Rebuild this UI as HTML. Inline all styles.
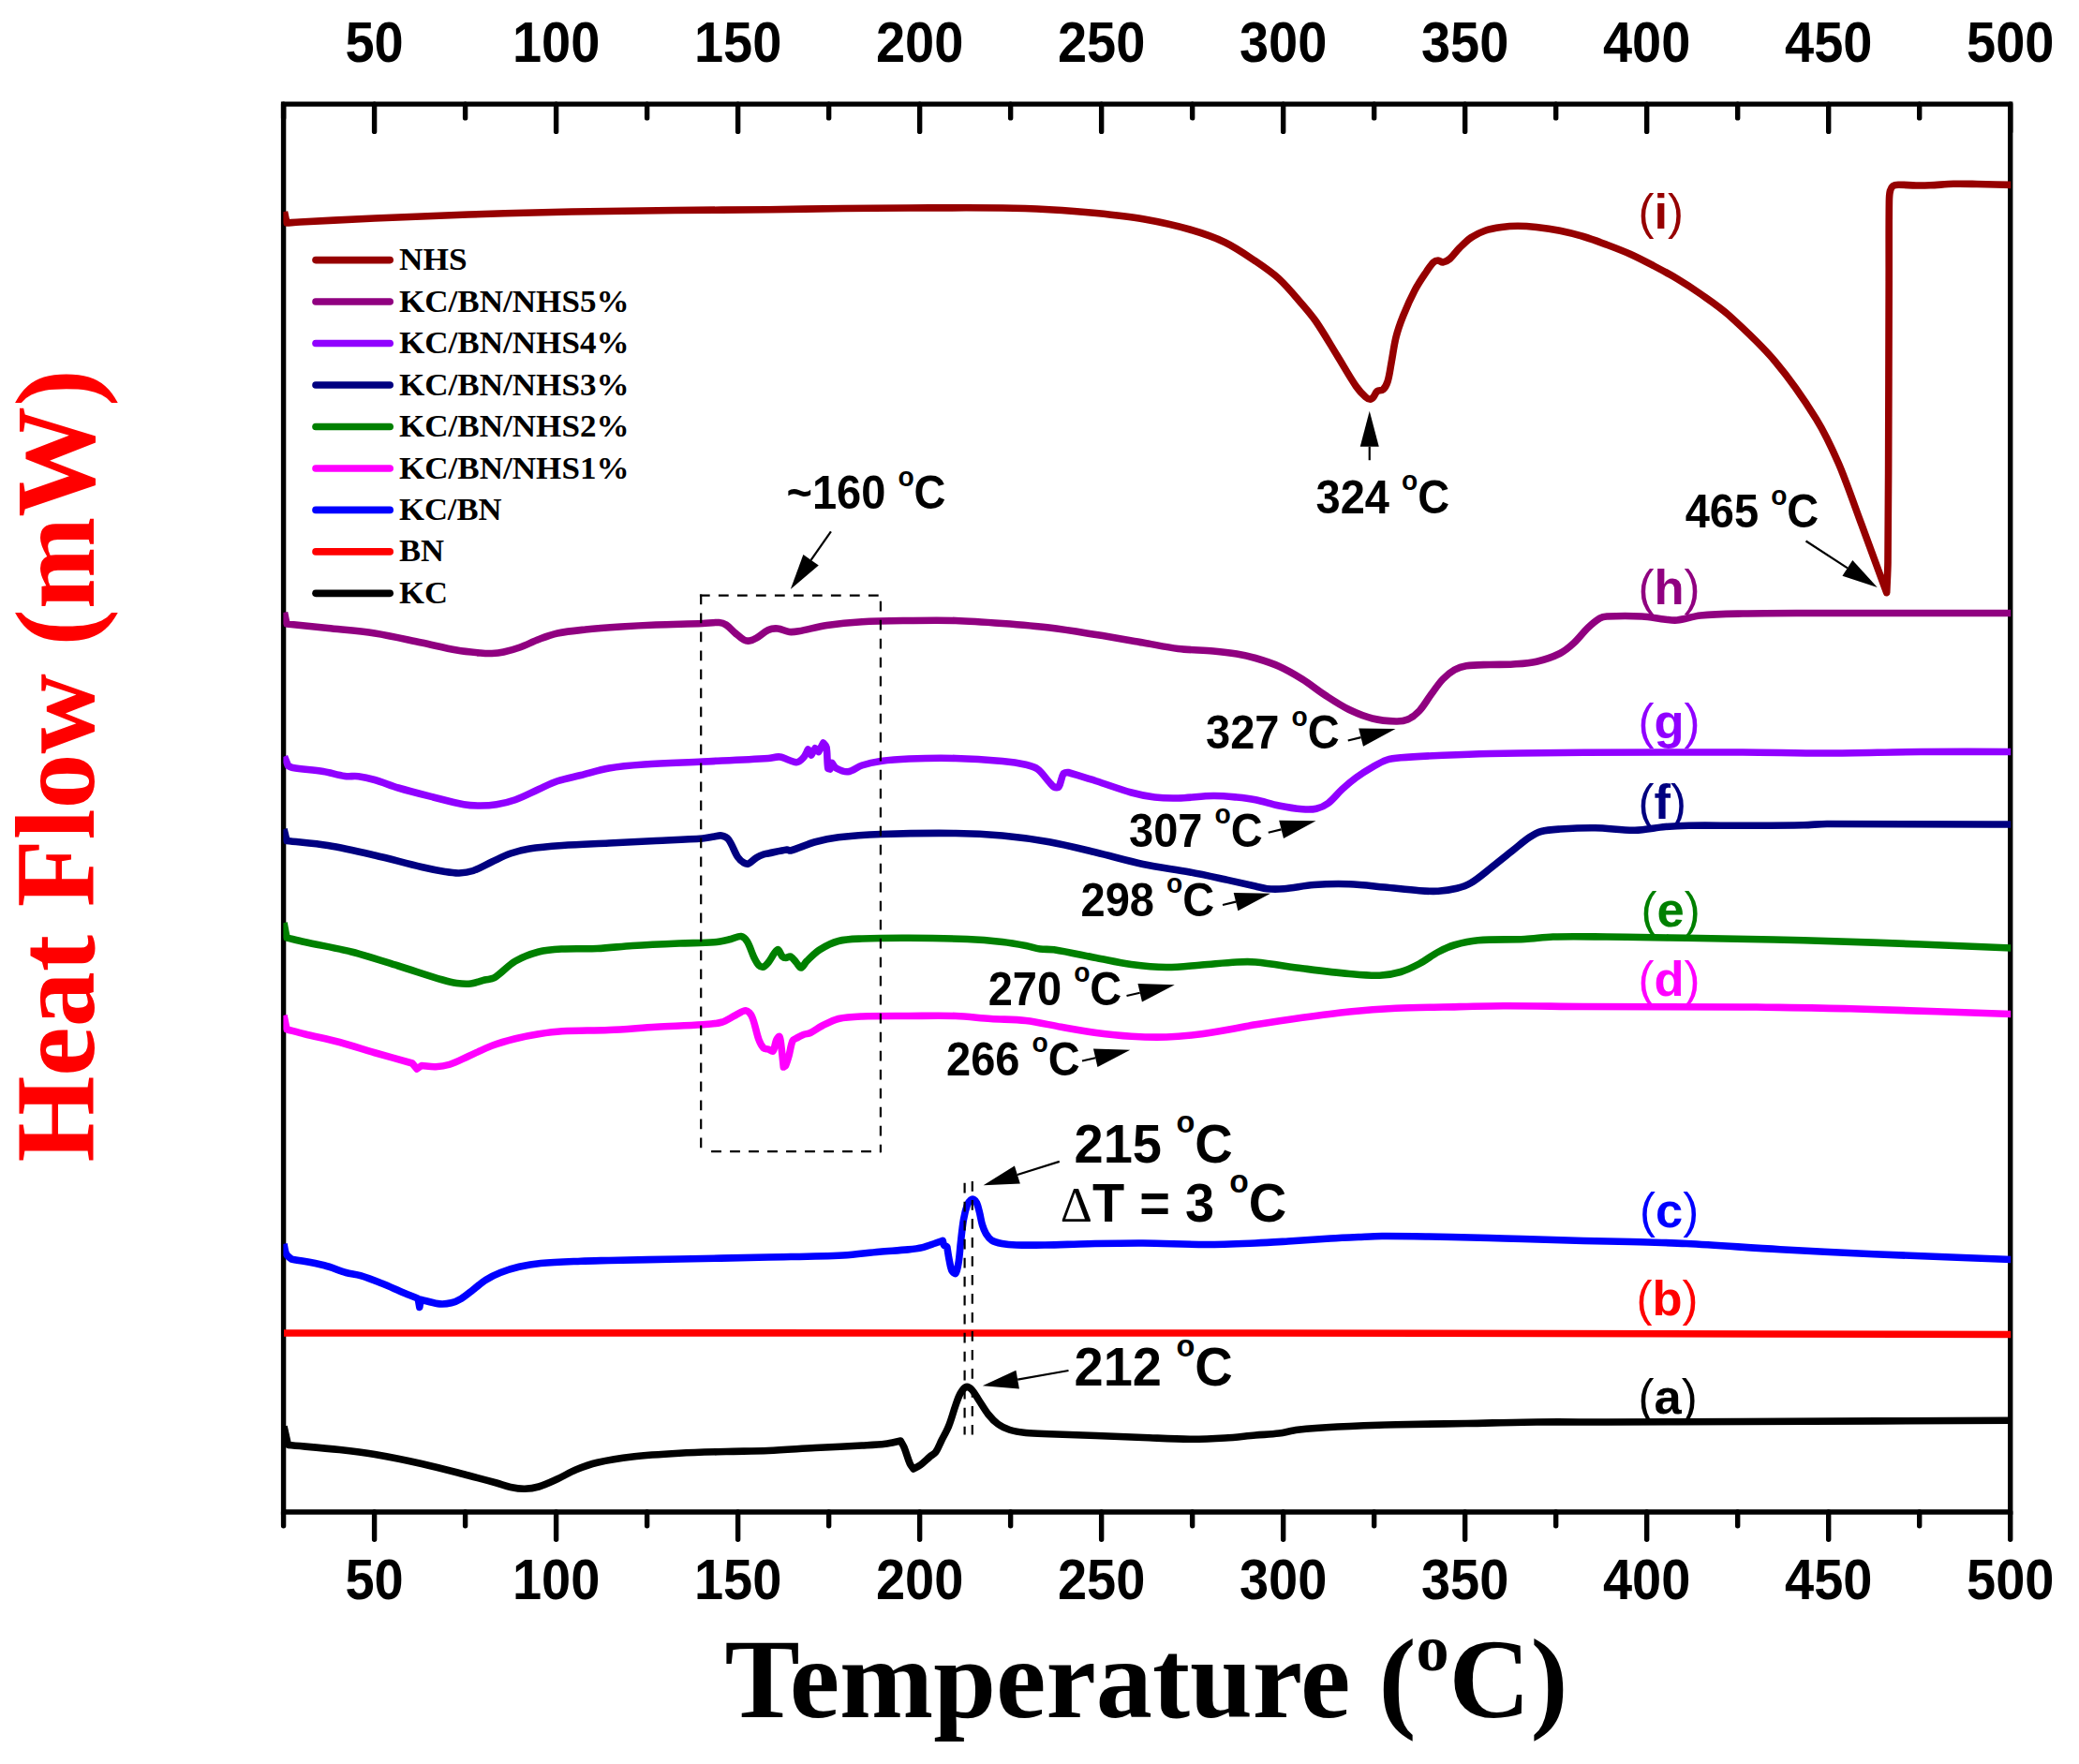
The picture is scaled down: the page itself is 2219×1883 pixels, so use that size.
<!DOCTYPE html>
<html lang="en"><head><meta charset="utf-8"><title>DSC thermograms</title>
<style>html,body{margin:0;padding:0;background:#fff}svg{display:block}.s{font-family:'Liberation Sans', sans-serif;font-weight:bold}.r{font-family:'Liberation Serif', serif;font-weight:bold}.n{font-weight:normal}.cv{fill:none;stroke-width:7.6;stroke-linejoin:round;stroke-linecap:butt}.ax{stroke:#000;stroke-width:5.4;stroke-linecap:round;fill:none}.ar{stroke:#000;stroke-width:2.2;fill:none}.dh{stroke:#000;stroke-width:2.2;fill:none;stroke-dasharray:10.8 9.2}</style></head><body>
<svg width="2219" height="1883" viewBox="0 0 2219 1883">
<rect width="2219" height="1883" fill="#fff"/>
<text class="s" font-size="56" fill="#000" text-anchor="middle" transform="translate(399.61 65.7) scale(1 1.075)">50</text>
<text class="s" font-size="56" fill="#000" text-anchor="middle" transform="translate(593.62 65.7) scale(1 1.075)">100</text>
<text class="s" font-size="56" fill="#000" text-anchor="middle" transform="translate(787.63 65.7) scale(1 1.075)">150</text>
<text class="s" font-size="56" fill="#000" text-anchor="middle" transform="translate(981.64 65.7) scale(1 1.075)">200</text>
<text class="s" font-size="56" fill="#000" text-anchor="middle" transform="translate(1175.65 65.7) scale(1 1.075)">250</text>
<text class="s" font-size="56" fill="#000" text-anchor="middle" transform="translate(1369.66 65.7) scale(1 1.075)">300</text>
<text class="s" font-size="56" fill="#000" text-anchor="middle" transform="translate(1563.67 65.7) scale(1 1.075)">350</text>
<text class="s" font-size="56" fill="#000" text-anchor="middle" transform="translate(1757.68 65.7) scale(1 1.075)">400</text>
<text class="s" font-size="56" fill="#000" text-anchor="middle" transform="translate(1951.69 65.7) scale(1 1.075)">450</text>
<text class="s" font-size="56" fill="#000" text-anchor="middle" transform="translate(2145.7 65.7) scale(1 1.075)">500</text>
<text class="s" font-size="56" fill="#000" text-anchor="middle" transform="translate(399.61 1707.3) scale(1 1.075)">50</text>
<text class="s" font-size="56" fill="#000" text-anchor="middle" transform="translate(593.62 1707.3) scale(1 1.075)">100</text>
<text class="s" font-size="56" fill="#000" text-anchor="middle" transform="translate(787.63 1707.3) scale(1 1.075)">150</text>
<text class="s" font-size="56" fill="#000" text-anchor="middle" transform="translate(981.64 1707.3) scale(1 1.075)">200</text>
<text class="s" font-size="56" fill="#000" text-anchor="middle" transform="translate(1175.65 1707.3) scale(1 1.075)">250</text>
<text class="s" font-size="56" fill="#000" text-anchor="middle" transform="translate(1369.66 1707.3) scale(1 1.075)">300</text>
<text class="s" font-size="56" fill="#000" text-anchor="middle" transform="translate(1563.67 1707.3) scale(1 1.075)">350</text>
<text class="s" font-size="56" fill="#000" text-anchor="middle" transform="translate(1757.68 1707.3) scale(1 1.075)">400</text>
<text class="s" font-size="56" fill="#000" text-anchor="middle" transform="translate(1951.69 1707.3) scale(1 1.075)">450</text>
<text class="s" font-size="56" fill="#000" text-anchor="middle" transform="translate(2145.7 1707.3) scale(1 1.075)">500</text>
<text class="r" font-size="120" x="773.5" y="1833" textLength="900" lengthAdjust="spacingAndGlyphs" id="xt">Temperature (<tspan font-size="70" dy="-50">o</tspan><tspan dy="50">C)</tspan></text>
<text class="r" font-size="120" fill="#FF0000" transform="translate(100 1240.5) rotate(-90)" textLength="846" lengthAdjust="spacingAndGlyphs" id="yt">Heat Flow (mW)</text>
<path class="ax" stroke-linejoin="miter" d="M302.6 111.1H2145.7V1614H302.6Z"/>
<path class="ax" d="M302.6 111.1V125.9M302.6 1614V1628.8M399.61 111.1V140.4M399.61 1614V1643.3M496.61 111.1V125.9M496.61 1614V1628.8M593.62 111.1V140.4M593.62 1614V1643.3M690.62 111.1V125.9M690.62 1614V1628.8M787.63 111.1V140.4M787.63 1614V1643.3M884.63 111.1V125.9M884.63 1614V1628.8M981.64 111.1V140.4M981.64 1614V1643.3M1078.64 111.1V125.9M1078.64 1614V1628.8M1175.65 111.1V140.4M1175.65 1614V1643.3M1272.65 111.1V125.9M1272.65 1614V1628.8M1369.66 111.1V140.4M1369.66 1614V1643.3M1466.66 111.1V125.9M1466.66 1614V1628.8M1563.67 111.1V140.4M1563.67 1614V1643.3M1660.67 111.1V125.9M1660.67 1614V1628.8M1757.68 111.1V140.4M1757.68 1614V1643.3M1854.68 111.1V125.9M1854.68 1614V1628.8M1951.69 111.1V140.4M1951.69 1614V1643.3M2048.69 111.1V125.9M2048.69 1614V1628.8M2145.7 111.1V140.4M2145.7 1614V1643.3"/>
<clipPath id="cp"><rect x="302.4" y="111.1" width="1843.8" height="1502.9"/></clipPath>
<g clip-path="url(#cp)">
<path class="cv" stroke="#000000" d="M303 1522.5L307.5 1542.5C325.83 1544.17 344.2 1545.52 362.5 1547.5C375.03 1548.86 387.58 1550.37 400 1552.5C416.74 1555.37 433.42 1558.77 450 1562.5C466.76 1566.27 483.36 1570.74 500 1575C510.03 1577.57 520.03 1580.23 530 1583C535.03 1584.4 539.91 1586.44 545 1587.5C549.91 1588.52 555.01 1589.33 560 1589.25C565.01 1589.17 570.19 1588.44 575 1587C581.86 1584.94 588.44 1581.74 595 1578.75C601.78 1575.66 608.13 1571.58 615 1568.75C622.29 1565.75 629.82 1563.01 637.5 1561.25C649.82 1558.43 662.42 1556.44 675 1555C691.59 1553.1 708.32 1552.17 725 1551.25C741.65 1550.33 758.33 1549.98 775 1549.5C790 1549.07 805.01 1549.13 820 1548.5C836.68 1547.8 853.33 1546.42 870 1545.5C886.66 1544.58 903.34 1543.94 920 1543C928.34 1542.53 936.72 1542.25 945 1541.25C950.47 1540.59 955.83 1539.08 961.25 1538C962.5 1540.33 964 1542.55 965 1545C967.34 1550.72 968.8 1556.86 971.25 1562.5C972.13 1564.52 973.75 1566.17 975 1568C977.5 1566.58 980.2 1565.46 982.5 1563.75C986.04 1561.12 989.12 1557.86 992.5 1555C994.54 1553.28 997.23 1552.12 998.75 1550C1001.4 1546.29 1002.92 1541.67 1005 1537.5C1007.5 1532.5 1010.43 1527.68 1012.5 1522.5C1015.43 1515.18 1017.34 1507.44 1020 1500C1021.51 1495.78 1022.79 1491.33 1025 1487.5C1026.54 1484.83 1028.87 1481.21 1031.25 1480.5C1033.04 1479.96 1035.93 1482.09 1037.5 1483.75C1040.51 1486.93 1042.5 1491.25 1045 1495C1048.33 1500 1051.26 1505.33 1055 1510C1057.93 1513.66 1061.23 1517.28 1065 1520C1068.73 1522.69 1073.1 1524.86 1077.5 1526.25C1083.1 1528.02 1089.11 1528.88 1095 1529.5C1103.28 1530.38 1111.66 1530.42 1120 1530.75C1136.66 1531.42 1153.33 1531.88 1170 1532.5C1186.67 1533.13 1203.33 1533.87 1220 1534.5C1236.67 1535.12 1253.33 1536.15 1270 1536.25C1282.5 1536.32 1295.02 1535.76 1307.5 1535C1318.35 1534.34 1329.16 1532.94 1340 1532C1348.33 1531.28 1356.72 1531.06 1365 1530C1371.72 1529.14 1378.27 1527 1385 1526.25C1399.1 1524.67 1413.31 1523.74 1427.5 1523C1448.31 1521.91 1469.16 1521.28 1490 1520.75C1514.99 1520.11 1540 1519.96 1565 1519.5C1590 1519.04 1615 1518.25 1640 1518C1665 1517.75 1690 1518.06 1715 1518C1763.33 1517.89 1811.67 1517.7 1860 1517.5C1955.67 1517.11 2051.33 1516.67 2147 1516.25"/>
<path class="cv" stroke="#FF0000" d="M303 1423C648.67 1423 994.33 1422.72 1340 1423C1609 1423.22 1878 1424 2147 1424.5"/>
<path class="cv" stroke="#0000FF" d="M303 1327.7C303.8 1331.3 303.86 1335.31 305.4 1338.5C306.46 1340.71 309 1342.1 310.8 1343.9C322.6 1346.2 334.56 1347.89 346.2 1350.8C354.06 1352.76 361.5 1356.31 369.3 1358.5C374.33 1359.91 379.7 1360.1 384.7 1361.6C392.5 1363.94 400.12 1366.98 407.7 1370C415.49 1373.11 423.07 1376.75 430.8 1380C435.9 1382.15 441.07 1384.13 446.2 1386.2L447.8 1395.4L449 1387.3C450.63 1387.7 452.26 1388.13 453.9 1388.5C459.03 1389.66 464.12 1391.47 469.3 1391.9C473.35 1392.24 477.65 1391.77 481.6 1390.8C485.35 1389.87 489.06 1388.19 492.4 1386.2C496.76 1383.59 500.63 1380.11 504.7 1377C509.36 1373.44 513.66 1369.32 518.6 1366.2C523.43 1363.15 528.68 1360.59 534 1358.5C540.48 1355.96 547.22 1353.88 554 1352.3C561.55 1350.54 569.27 1349.21 577 1348.5C591.27 1347.18 605.66 1346.79 620 1346.2C629.99 1345.79 640 1345.71 650 1345.5C675 1344.98 700 1344.51 725 1344C756.67 1343.35 788.33 1342.72 820 1342C846.67 1341.39 873.37 1341.3 900 1340C912.87 1339.37 925.65 1337.33 938.5 1336.2C948.75 1335.3 959.06 1334.92 969.3 1333.9C974.46 1333.39 979.67 1332.79 984.7 1331.6C989.4 1330.49 993.91 1328.56 998.5 1327C1001.08 1326.13 1003.63 1325.2 1006.2 1324.3C1006.7 1325.97 1006.78 1327.99 1007.7 1329.3C1008.31 1330.16 1009.77 1330.3 1010.8 1330.8C1011.57 1335.43 1012.15 1340.1 1013.1 1344.7C1013.95 1348.84 1014.5 1353.4 1016.2 1357C1016.8 1358.26 1019.38 1360.14 1020 1359.3C1021.68 1357.04 1022.46 1351.64 1023.1 1347.7C1024.26 1340.61 1024.56 1333.36 1025.4 1326.2C1026.36 1317.99 1027.08 1309.73 1028.5 1301.6C1029.41 1296.39 1030.59 1291.1 1032.4 1286.2C1033.15 1284.16 1034.64 1282.13 1036.2 1280.8C1036.94 1280.17 1038.48 1279.89 1039.3 1280.3C1040.54 1280.92 1041.76 1282.48 1042.4 1283.9C1043.8 1287.02 1044.54 1290.53 1045.4 1293.9C1046.57 1298.46 1047.14 1303.2 1048.5 1307.7C1049.47 1310.9 1050.66 1314.18 1052.4 1317C1053.99 1319.58 1055.98 1322.35 1058.5 1323.9C1061.61 1325.81 1065.61 1326.68 1069.3 1327.4C1074.34 1328.38 1079.55 1328.82 1084.7 1329C1094.95 1329.35 1105.24 1329.17 1115.5 1329C1130.9 1328.74 1146.3 1327.99 1161.7 1327.7C1181.13 1327.33 1200.57 1326.88 1220 1327C1242.5 1327.14 1265 1328.5 1287.5 1328.5C1305 1328.5 1322.51 1327.7 1340 1327C1351.68 1326.53 1363.34 1325.73 1375 1325C1390 1324.06 1404.99 1322.9 1420 1322C1429.99 1321.4 1440 1320.95 1450 1320.5C1458.33 1320.12 1466.66 1319.56 1475 1319.5C1491.66 1319.39 1508.34 1319.71 1525 1320C1546.67 1320.38 1568.33 1320.96 1590 1321.5C1601.67 1321.79 1613.33 1322.15 1625 1322.5C1646.67 1323.15 1668.33 1323.93 1690 1324.5C1706.66 1324.93 1723.34 1325.05 1740 1325.5C1760 1326.05 1780.02 1326.47 1800 1327.5C1833.35 1329.22 1866.65 1331.87 1900 1333.75C1933.32 1335.62 1966.66 1337.3 2000 1338.75C2048.99 1340.88 2098 1342.58 2147 1344.5"/>
<path class="cv" stroke="#FF00FF" d="M303 1083.75L306 1098.75C312.33 1100.42 318.64 1102.2 325 1103.75C337.47 1106.78 350.1 1109.19 362.5 1112.5C375.1 1115.86 387.47 1120.11 400 1123.75C413.3 1127.61 426.67 1131.25 440 1135L445 1141L450 1137.5C455 1137.92 460.03 1138.96 465 1138.75C470.03 1138.54 475.21 1137.79 480 1136.25C486.88 1134.04 493.35 1130.46 500 1127.5C508.35 1123.79 516.46 1119.45 525 1116.25C533.13 1113.2 541.57 1110.86 550 1108.75C558.24 1106.69 566.61 1105.09 575 1103.75C583.28 1102.42 591.63 1101.22 600 1100.75C616.63 1099.81 633.35 1100.25 650 1099.5C666.68 1098.75 683.33 1097.21 700 1096.25C716.66 1095.29 733.36 1094.94 750 1093.75C756.7 1093.27 763.63 1093.07 770 1091.25C775.3 1089.74 779.96 1086.17 785 1083.75C788.63 1082.01 792.66 1078.51 796 1078.75C798.49 1078.93 801.3 1082.33 802.5 1085C805.97 1092.74 806.99 1101.88 810 1110C811.16 1113.13 812.79 1116.54 815 1118.75C816.13 1119.88 818.37 1119.47 820 1120C821.7 1120.55 824.13 1123 825 1122C827.04 1119.67 827.06 1113.74 828.75 1110C829.39 1108.58 831.49 1105.73 832 1106.5C833.24 1108.39 833.49 1114.14 834 1118C834.92 1124.98 835.53 1132 836.3 1139C837.03 1138.5 838.13 1138.28 838.5 1137.5C840.03 1134.28 841 1130.55 842 1127C843.5 1121.71 843.94 1115.82 846 1111C846.6 1109.59 848.6 1109.09 850 1108.3C852.44 1106.92 854.9 1105.51 857.5 1104.5C859.9 1103.57 862.68 1103.6 865 1102.5C869.35 1100.43 873.16 1097.17 877.5 1095C883.16 1092.17 888.89 1088.94 895 1087.5C903.06 1085.6 911.64 1085.33 920 1085C936.64 1084.33 953.33 1084.58 970 1084.5C986.67 1084.42 1003.36 1083.93 1020 1084.5C1032.52 1084.93 1044.99 1086.67 1057.5 1087.5C1069.99 1088.33 1082.59 1088.05 1095 1089.5C1107.59 1090.97 1119.99 1094.08 1132.5 1096.25C1144.99 1098.41 1157.45 1100.83 1170 1102.5C1182.45 1104.16 1194.97 1105.5 1207.5 1106.25C1219.97 1107 1232.52 1107.42 1245 1107C1257.52 1106.58 1270.06 1105.33 1282.5 1103.75C1295.06 1102.16 1307.52 1099.67 1320 1097.5C1326.68 1096.34 1333.3 1094.83 1340 1093.75C1356.64 1091.08 1373.31 1088.55 1390 1086.25C1406.64 1083.96 1423.29 1081.67 1440 1080C1456.63 1078.34 1473.31 1077.08 1490 1076.25C1506.65 1075.42 1523.33 1075.36 1540 1075C1561.67 1074.53 1583.33 1073.82 1605 1073.75C1633.33 1073.66 1661.67 1074.36 1690 1074.5C1746.67 1074.78 1803.33 1074.85 1860 1075C1865 1075.01 1870 1074.92 1875 1075C1908.33 1075.51 1941.68 1075.83 1975 1076.75C2032.34 1078.33 2089.67 1080.58 2147 1082.5"/>
<path class="cv" stroke="#008000" d="M303 985L306 1001C312.33 1002.5 318.64 1004.12 325 1005.5C341.64 1009.12 358.51 1011.8 375 1016C391.85 1020.3 408.37 1025.88 425 1031C440.87 1035.88 456.59 1041.29 472.5 1046C477.42 1047.46 482.44 1048.82 487.5 1049.5C492.44 1050.16 497.58 1050.57 502.5 1050C507.58 1049.41 512.48 1047.25 517.5 1046C520.81 1045.17 524.65 1045.51 527.5 1043.75C535.48 1038.84 541.84 1030.77 550 1026C557.67 1021.52 566.39 1018.24 575 1016C583.05 1013.91 591.63 1013.47 600 1013C612.46 1012.3 625.02 1013.08 637.5 1012.5C650.02 1011.92 662.49 1010.29 675 1009.5C691.65 1008.45 708.33 1007.71 725 1007C737.5 1006.46 750.07 1006.77 762.5 1005.75C768.4 1005.27 774.21 1003.77 780 1002.5C783.71 1001.69 787.66 999.02 791 999.5C793.49 999.86 796.06 1002.63 797.5 1005C800.72 1010.3 802.21 1016.82 805 1022.5C806.38 1025.32 807.85 1028.46 810 1030.5C811.19 1031.63 813.54 1032.44 815 1032C816.88 1031.44 818.58 1029.22 820 1027.5C823.58 1023.14 826.71 1015.18 830 1013.75C831.71 1013.01 833 1019 835 1021C835.92 1021.92 837.48 1022.5 838.75 1022.5C840.39 1022.5 842.38 1020.39 843.75 1021C846.13 1022.06 847.94 1025.31 850 1027.5C851.69 1029.31 853.36 1033.22 855 1033C857.03 1032.72 858.79 1028.13 861 1026C865.46 1021.71 869.81 1017.03 875 1013.75C881.15 1009.86 887.99 1006.33 895 1004.5C902.99 1002.41 911.64 1002.36 920 1002C936.64 1001.28 953.33 1001.18 970 1001.25C990.83 1001.34 1011.69 1001.62 1032.5 1002.5C1045.02 1003.03 1057.55 1004.11 1070 1005.5C1078.38 1006.44 1086.71 1007.95 1095 1009.5C1100.04 1010.45 1104.94 1012.28 1110 1013C1114.94 1013.7 1120.06 1012.97 1125 1013.75C1140.06 1016.14 1154.99 1019.63 1170 1022.5C1182.49 1024.88 1194.91 1027.82 1207.5 1029.5C1219.91 1031.16 1232.49 1032.42 1245 1032.5C1257.49 1032.58 1270.01 1030.92 1282.5 1030C1295.01 1029.08 1307.49 1027.65 1320 1027C1326.65 1026.65 1333.38 1026.36 1340 1027C1356.71 1028.61 1373.31 1031.66 1390 1033.75C1406.65 1035.83 1423.3 1037.98 1440 1039.5C1450.8 1040.48 1461.72 1041.64 1472.5 1041.25C1480.05 1040.98 1487.76 1039.63 1495 1037.5C1501.93 1035.46 1508.59 1032.15 1515 1028.75C1521.92 1025.07 1528.08 1019.94 1535 1016.25C1540.58 1013.27 1546.44 1010.53 1552.5 1008.75C1560.61 1006.36 1569.06 1004.45 1577.5 1003.75C1594.06 1002.37 1610.85 1003.28 1627.5 1002.5C1637.52 1002.03 1647.48 1000.29 1657.5 1000C1676.64 999.45 1695.83 999.87 1715 1000C1731.67 1000.12 1748.33 1000.5 1765 1000.75C1776.67 1000.92 1788.33 1001.03 1800 1001.25C1841.67 1002.03 1883.34 1002.63 1925 1003.75C1966.67 1004.88 2008.34 1006.45 2050 1008C2082.34 1009.2 2114.67 1010.67 2147 1012"/>
<path class="cv" stroke="#000080" d="M303 885L306 897.5C320.67 899.17 335.45 900.1 350 902.5C366.78 905.27 383.41 909.18 400 913C416.74 916.85 433.27 921.6 450 925.5C458.27 927.43 466.62 929.14 475 930.5C479.95 931.31 485.02 932.17 490 932C495.02 931.83 500.25 931.13 505 929.5C511.92 927.13 518.3 923.1 525 920C531.63 916.93 538.13 913.41 545 911C551.46 908.74 558.23 907.05 565 906C576.56 904.21 588.31 903.33 600 902.5C616.64 901.33 633.33 900.83 650 900C666.67 899.17 683.33 898.33 700 897.5C716.67 896.67 733.37 896.2 750 895C754.2 894.7 758.33 893.63 762.5 893C764.99 892.63 767.65 891.53 770 892C772.65 892.53 775.85 893.83 777.5 896C781.68 901.49 783.6 909.1 787.5 915C789.1 917.43 791.58 919.49 794 921C795.33 921.83 797.36 922.56 798.75 922C801.86 920.73 804.42 917.39 807.5 915.5C809.84 914.06 812.42 912.93 815 912C816.59 911.43 818.33 911.33 820 911C826.67 909.67 833.35 907.84 840 907C841.27 906.84 842.53 908.34 843.75 908C852.53 905.59 861.08 901.23 870 898.75C878.17 896.48 886.58 894.74 895 893.75C909.91 891.99 924.98 891.01 940 890.5C966.64 889.59 993.35 889.19 1020 889.5C1036.68 889.69 1053.4 890.46 1070 892C1086.73 893.55 1103.46 895.77 1120 898.75C1136.8 901.77 1153.38 906.05 1170 910C1186.71 913.97 1203.2 918.97 1220 922.5C1236.53 925.97 1253.38 927.91 1270 931C1282.55 933.33 1295.02 936.08 1307.5 938.75C1318.35 941.08 1329.16 943.59 1340 946C1344.16 946.93 1348.28 948.36 1352.5 948.75C1358.28 949.28 1364.2 949.24 1370 948.75C1380.87 947.83 1391.62 945.28 1402.5 944.5C1414.95 943.61 1427.52 943.33 1440 943.75C1452.52 944.17 1465.01 945.83 1477.5 947C1490.01 948.17 1502.48 949.82 1515 950.75C1521.65 951.24 1528.37 951.66 1535 951.25C1541.7 950.83 1548.5 949.88 1555 948.25C1560.16 946.96 1565.44 945.21 1570 942.5C1577.1 938.29 1583.42 932.62 1590 927.5C1598.42 920.95 1606.64 914.14 1615 907.5C1620.81 902.89 1626.36 897.85 1632.5 893.75C1636.36 891.18 1640.56 888.69 1645 887.5C1651.4 885.78 1658.3 885.44 1665 885C1677.47 884.19 1690.01 883.55 1702.5 883.75C1716.67 883.97 1730.86 886.49 1745 886.25C1755.86 886.07 1766.64 883.44 1777.5 882.5C1785.81 881.78 1794.16 881.38 1802.5 881.25C1821.66 880.96 1840.83 881.33 1860 881.25C1881.67 881.16 1903.34 881.17 1925 880.75C1933.34 880.59 1941.66 879.53 1950 879.5C2015.66 879.28 2081.33 879.83 2147 880"/>
<path class="cv" stroke="#9000FF" d="M303.5 807.5L307.5 817.5C309.17 818.17 310.73 819.22 312.5 819.5C323.23 821.22 334.24 821.75 345 823.5C352.74 824.75 360.27 827.42 368 828.5C372.77 829.17 377.73 828.15 382.5 828.75C388.39 829.49 394.28 830.85 400 832.5C408.44 834.93 416.56 838.5 425 841C437.4 844.67 449.96 847.82 462.5 851C473.29 853.74 484.07 856.78 495 858.75C500.74 859.78 506.67 860 512.5 860C518.33 860 524.25 859.71 530 858.75C536.75 857.62 543.56 856.07 550 853.75C558.56 850.66 566.65 846.21 575 842.5C581.65 839.54 588.12 836.04 595 833.75C603.12 831.04 611.67 829.58 620 827.5C630 825 639.86 821.73 650 820C662.36 817.89 674.96 816.88 687.5 816C708.3 814.54 729.17 814.02 750 813C773.33 811.86 796.69 810.91 820 809.5C824.19 809.25 828.44 807.42 832.5 808C838.44 808.84 844.4 813.58 850 813.75C852.74 813.83 855.53 810.91 857.5 808.75C859.7 806.33 860.83 802.92 862.5 800L866 806L870 798.75L873.75 802.5L878.75 793C879.83 794.5 881.67 795.72 882 797.5C883.34 804.72 882.55 812.94 883.75 820C883.88 820.77 885.25 820.67 886 821L888 814.5C889.5 816.33 890.5 818.91 892.5 820C896.17 822 900.94 824.19 905 823.75C910.11 823.19 914.81 818.67 920 817C926.47 814.92 933.25 813.45 940 812.5C949.91 811.11 959.98 810.38 970 810C986.65 809.38 1003.35 809.08 1020 809.5C1036.68 809.92 1053.39 811 1070 812.5C1078.39 813.25 1086.82 814.4 1095 816.25C1099.32 817.23 1104.03 818.4 1107.5 821C1112.37 824.65 1115.76 830.4 1120 835C1121.6 836.73 1123.05 839.02 1125 840C1126.38 840.69 1129.16 841.17 1130 840C1132.49 836.51 1132.53 829.82 1135 826C1135.87 824.66 1138.33 825 1140 824.5C1150 827.58 1160.03 830.57 1170 833.75C1182.53 837.74 1194.85 842.51 1207.5 846C1215.68 848.26 1224.09 849.99 1232.5 851C1240.75 851.99 1249.17 852.2 1257.5 852C1270.01 851.7 1282.5 849.7 1295 849.5C1303.33 849.37 1311.69 850.22 1320 851C1326.69 851.63 1333.41 852.43 1340 853.75C1348.41 855.43 1356.59 858.32 1365 860C1373.25 861.65 1381.63 863.07 1390 863.75C1394.97 864.15 1400.22 864.34 1405 863.25C1409.38 862.25 1413.89 860.22 1417.5 857.5C1423.06 853.3 1427.29 847.27 1432.5 842.5C1437.29 838.11 1442.26 833.83 1447.5 830C1453.09 825.92 1459 822.21 1465 818.75C1469.84 815.96 1474.76 813 1480 811.25C1484.76 809.66 1489.95 809.17 1495 808.75C1509.95 807.5 1524.99 806.92 1540 806.25C1556.66 805.5 1573.33 804.83 1590 804.5C1623.33 803.83 1656.67 803.44 1690 803.25C1746.67 802.94 1803.33 802.84 1860 803C1890 803.09 1920 804.08 1950 804C1983.33 803.91 2016.66 802.75 2050 802.5C2082.33 802.25 2114.67 802.5 2147 802.5"/>
<path class="cv" stroke="#900080" d="M303.5 653.75L306 666C320.67 667.5 335.34 668.94 350 670.5C366.67 672.27 383.45 673.43 400 676C416.78 678.6 433.35 682.58 450 686C462.52 688.58 474.92 691.79 487.5 694C495.76 695.45 504.15 696.22 512.5 697C516.65 697.39 520.85 697.67 525 697.5C529.18 697.33 533.41 696.89 537.5 696C543.41 694.72 549.3 693.05 555 691C561.8 688.55 568.22 685.04 575 682.5C581.56 680.04 588.17 677.43 595 676C604.83 673.93 614.97 673.04 625 672C637.47 670.71 649.99 669.83 662.5 669C674.99 668.17 687.49 667.5 700 667C716.66 666.33 733.34 666.12 750 665.5C755.84 665.28 761.76 664.16 767.5 664.5C770.09 664.66 772.84 665.58 775 667C778.67 669.41 781.57 673.11 785 676C787.91 678.45 790.74 681.26 794 683C795.74 683.93 798.07 684.29 800 684C802.57 683.62 805.18 682.34 807.5 681C811.84 678.5 815.51 674.5 820 672.5C823.01 671.16 826.72 670.71 830 671C834.22 671.37 838.27 673.98 842.5 674.5C845.77 674.9 849.21 674.33 852.5 673.75C862.55 671.99 872.41 668.99 882.5 667.5C894.91 665.66 907.47 664.47 920 663.75C936.63 662.8 953.33 662.71 970 662.5C986.66 662.29 1003.35 662 1020 662.5C1036.68 663 1053.35 664.25 1070 665.5C1086.69 666.75 1103.39 668.01 1120 670C1136.73 672.01 1153.36 674.84 1170 677.5C1186.69 680.17 1203.34 683.14 1220 686C1232.5 688.14 1244.92 690.99 1257.5 692.5C1269.92 693.99 1282.52 693.9 1295 695C1303.36 695.74 1311.73 696.62 1320 698C1326.73 699.12 1333.46 700.57 1340 702.5C1348.46 704.99 1356.98 707.64 1365 711.25C1373.64 715.14 1381.95 719.97 1390 725C1398.61 730.38 1406.48 736.96 1415 742.5C1423.14 747.79 1431.31 753.24 1440 757.5C1447.97 761.41 1456.42 764.85 1465 767C1473.08 769.02 1481.68 769.78 1490 770C1494.18 770.11 1498.76 769.68 1502.5 768C1507.09 765.93 1511.5 762.49 1515 758.75C1519.84 753.58 1523.23 747.01 1527.5 741.25C1531.57 735.76 1535.32 729.91 1540 725C1543.65 721.16 1547.93 717.6 1552.5 715C1556.27 712.85 1560.68 711.38 1565 710.75C1573.18 709.55 1581.66 709.79 1590 709.5C1598.33 709.21 1606.69 709.54 1615 709C1623.36 708.46 1631.88 708.12 1640 706.25C1648.55 704.28 1657.19 701.4 1665 697.5C1670.53 694.74 1675.41 690.46 1680 686.25C1685.41 681.29 1689.68 675.08 1695 670C1698.85 666.33 1703.01 662.69 1707.5 660C1709.68 658.69 1712.43 658.11 1715 658C1727.43 657.45 1740.04 657.35 1752.5 658C1760.88 658.44 1769.15 660.36 1777.5 661.25C1781.65 661.69 1785.88 662.47 1790 662C1798.38 661.05 1806.57 657.84 1815 657C1829.9 655.51 1844.99 655.34 1860 655C1881.66 654.51 1903.33 654.54 1925 654.5C1999 654.37 2073 654.5 2147 654.5"/>
<path class="cv" stroke="#960000" d="M303.5 226L306 238C310.67 237.67 315.33 237.25 320 237C346.66 235.58 373.33 234.19 400 233C433.33 231.52 466.66 230.11 500 229C536.66 227.78 573.33 226.75 610 226C646.66 225.25 683.33 224.89 720 224.5C753.33 224.14 786.67 224.12 820 223.75C846.67 223.45 873.33 222.81 900 222.5C923.33 222.23 946.67 222.07 970 222C1003.33 221.9 1036.67 221.61 1070 222C1086.67 222.19 1103.35 222.83 1120 223.75C1136.68 224.67 1153.37 225.84 1170 227.5C1186.71 229.17 1203.47 230.86 1220 233.75C1236.81 236.69 1253.61 240.32 1270 245C1282.77 248.65 1295.57 253 1307.5 258.75C1318.9 264.25 1329.46 271.65 1340 278.75C1348.63 284.57 1357.39 290.46 1365 297.5C1374.05 305.87 1381.9 315.63 1390 325C1395.23 331.05 1400.5 337.15 1405 343.75C1413 355.48 1420.02 367.9 1427.5 380C1434.19 390.82 1440.33 402.04 1447.5 412.5C1450.33 416.63 1453.85 420.41 1457.5 423.75C1458.85 424.99 1460.9 426.25 1462.5 426.25C1463.73 426.25 1465.08 424.82 1466 423.75C1467.58 421.9 1468.18 418.91 1470 417.5C1471.52 416.33 1474.59 417.28 1476 416C1478.25 413.95 1480.02 410.6 1481 407.5C1483.02 401.1 1483.73 394.18 1485 387.5C1486.73 378.35 1487.75 369.02 1490 360C1491.91 352.35 1494.57 344.83 1497.5 337.5C1501.23 328.16 1505.32 318.89 1510 310C1513.65 303.06 1518.14 296.54 1522.5 290C1524.81 286.54 1527.09 282.8 1530 280C1531.25 278.8 1533.33 278 1535 278C1536.67 278 1538.37 280.23 1540 280C1542.54 279.64 1545.41 278.04 1547.5 276.25C1551.25 273.04 1553.96 268.54 1557.5 265C1561.46 261.04 1565.41 256.88 1570 253.75C1574.58 250.63 1579.76 248.06 1585 246.25C1590.59 244.31 1596.61 243.34 1602.5 242.5C1608.28 241.67 1614.16 241.25 1620 241.25C1626.66 241.25 1633.37 241.76 1640 242.5C1648.37 243.43 1656.75 244.6 1665 246.25C1673.41 247.93 1681.78 250.03 1690 252.5C1698.45 255.03 1706.74 258.15 1715 261.25C1723.4 264.4 1731.82 267.57 1740 271.25C1748.49 275.07 1756.75 279.42 1765 283.75C1773.42 288.17 1781.85 292.61 1790 297.5C1798.52 302.61 1806.88 308.02 1815 313.75C1825.22 320.96 1835.75 327.92 1845 336.3C1862.41 352.07 1879.88 368.26 1895 386.2C1911.04 405.23 1925.37 426.04 1938.5 447.2C1947.8 462.18 1955.28 478.4 1962.3 494.6C1970.68 513.96 1977.33 534.1 1984.7 553.9C1994.46 580.13 2004.03 606.43 2013.7 632.7C2014.13 621.8 2014.84 610.91 2015 600C2015.47 568.34 2015.47 536.67 2015.6 505C2015.87 436.67 2016.01 368.33 2016.2 300C2016.28 271.67 2016.02 243.32 2016.4 215C2016.45 211.15 2016.59 207.16 2017.5 203.5C2017.96 201.66 2019.06 199.57 2020.5 198.5C2021.89 197.47 2024.13 197.24 2026 197.2C2032.3 197.07 2038.66 197.89 2045 198C2050 198.09 2055.01 198.01 2060 197.8C2068.34 197.45 2076.66 196.52 2085 196.3C2093.33 196.08 2101.67 196.35 2110 196.5C2122.33 196.72 2134.67 197.1 2147 197.4"/>
</g>
<path class="dh" stroke-dasharray="10.9 9.15" d="M746.9 635.6H941"/>
<path class="dh" stroke-dasharray="10.9 9" d="M748.2 634.4V1229.2"/>
<path class="dh" stroke-dasharray="10.9 9.02" d="M939.9 641.7V1230.3"/>
<path class="dh" stroke-dasharray="10.9 9.1" d="M759.1 1229.2H940"/>
<path class="dh" d="M1029.6 1262.8V1531.6M1037.8 1261V1531.6"/>
<g class="r" font-size="34.6" fill="#000">
<line x1="337" y1="277.6" x2="416.2" y2="277.6" stroke="#960000" stroke-width="7.6" stroke-linecap="round"/>
<text x="426" y="288.2" textLength="72.5" lengthAdjust="spacingAndGlyphs">NHS</text>
<line x1="337" y1="322.07" x2="416.2" y2="322.07" stroke="#900080" stroke-width="7.6" stroke-linecap="round"/>
<text x="426" y="332.67" textLength="245.5" lengthAdjust="spacingAndGlyphs">KC/BN/NHS5%</text>
<line x1="337" y1="366.54" x2="416.2" y2="366.54" stroke="#9000FF" stroke-width="7.6" stroke-linecap="round"/>
<text x="426" y="377.14" textLength="245.5" lengthAdjust="spacingAndGlyphs">KC/BN/NHS4%</text>
<line x1="337" y1="411.01" x2="416.2" y2="411.01" stroke="#000080" stroke-width="7.6" stroke-linecap="round"/>
<text x="426" y="421.61" textLength="245.5" lengthAdjust="spacingAndGlyphs">KC/BN/NHS3%</text>
<line x1="337" y1="455.48" x2="416.2" y2="455.48" stroke="#008000" stroke-width="7.6" stroke-linecap="round"/>
<text x="426" y="466.08" textLength="245.5" lengthAdjust="spacingAndGlyphs">KC/BN/NHS2%</text>
<line x1="337" y1="499.95" x2="416.2" y2="499.95" stroke="#FF00FF" stroke-width="7.6" stroke-linecap="round"/>
<text x="426" y="510.55" textLength="245.5" lengthAdjust="spacingAndGlyphs">KC/BN/NHS1%</text>
<line x1="337" y1="544.42" x2="416.2" y2="544.42" stroke="#0000FF" stroke-width="7.6" stroke-linecap="round"/>
<text x="426" y="555.02">KC/BN</text>
<line x1="337" y1="588.89" x2="416.2" y2="588.89" stroke="#FF0000" stroke-width="7.6" stroke-linecap="round"/>
<text x="426" y="599.49">BN</text>
<line x1="337" y1="633.36" x2="416.2" y2="633.36" stroke="#000000" stroke-width="7.6" stroke-linecap="round"/>
<text x="426" y="643.96">KC</text>
</g>
<text class="s" font-size="52.5" fill="#960000" transform="translate(1748.5 243.75) scale(1 1)"><tspan class="n" font-size="51">(</tspan>i<tspan class="n" font-size="51">)</tspan></text>
<text class="s" font-size="52.5" fill="#900080" transform="translate(1748.5 645) scale(1 1)"><tspan class="n" font-size="51">(</tspan>h<tspan class="n" font-size="51">)</tspan></text>
<text class="s" font-size="52.5" fill="#9000FF" transform="translate(1748.5 787.5) scale(1 1)"><tspan class="n" font-size="51">(</tspan>g<tspan class="n" font-size="51">)</tspan></text>
<text class="s" font-size="52.5" fill="#000080" transform="translate(1748.5 873.75) scale(1 1)"><tspan class="n" font-size="51">(</tspan>f<tspan class="n" font-size="51">)</tspan></text>
<text class="s" font-size="52.5" fill="#008000" transform="translate(1751.5 988.75) scale(1 1)"><tspan class="n" font-size="51">(</tspan>e<tspan class="n" font-size="51">)</tspan></text>
<text class="s" font-size="52.5" fill="#FF00FF" transform="translate(1748.5 1062.5) scale(1 1)"><tspan class="n" font-size="51">(</tspan>d<tspan class="n" font-size="51">)</tspan></text>
<text class="s" font-size="52.5" fill="#0000FF" transform="translate(1750 1309.8) scale(1 1)"><tspan class="n" font-size="51">(</tspan>c<tspan class="n" font-size="51">)</tspan></text>
<text class="s" font-size="52.5" fill="#FF0000" transform="translate(1746.5 1403.75) scale(1 1)"><tspan class="n" font-size="51">(</tspan>b<tspan class="n" font-size="51">)</tspan></text>
<text class="s" font-size="52.5" fill="#000000" transform="translate(1748.5 1508.75) scale(1 1)"><tspan class="n" font-size="51">(</tspan>a<tspan class="n" font-size="51">)</tspan></text>
<text class="s" font-size="47" fill="#000" transform="translate(839.5 543) scale(1 1.048)">~160 <tspan font-size="28.2" dy="-23.03">o</tspan><tspan dy="23.03">C</tspan></text>
<text class="s" font-size="47" fill="#000" transform="translate(1404.5 547.5) scale(1 1.048)">324 <tspan font-size="28.2" dy="-23.03">o</tspan><tspan dy="23.03">C</tspan></text>
<text class="s" font-size="47" fill="#000" transform="translate(1798.7 563.2) scale(1 1.048)">465 <tspan font-size="28.2" dy="-23.03">o</tspan><tspan dy="23.03">C</tspan></text>
<text class="s" font-size="47" fill="#000" transform="translate(1287 799.3) scale(1 1.048)">327 <tspan font-size="28.2" dy="-23.03">o</tspan><tspan dy="23.03">C</tspan></text>
<text class="s" font-size="47" fill="#000" transform="translate(1205 903.5) scale(1 1.048)">307 <tspan font-size="28.2" dy="-23.03">o</tspan><tspan dy="23.03">C</tspan></text>
<text class="s" font-size="47" fill="#000" transform="translate(1153.5 977.5) scale(1 1.048)">298 <tspan font-size="28.2" dy="-23.03">o</tspan><tspan dy="23.03">C</tspan></text>
<text class="s" font-size="47" fill="#000" transform="translate(1054.7 1072.5) scale(1 1.048)">270 <tspan font-size="28.2" dy="-23.03">o</tspan><tspan dy="23.03">C</tspan></text>
<text class="s" font-size="47" fill="#000" transform="translate(1010 1147.5) scale(1 1.048)">266 <tspan font-size="28.2" dy="-23.03">o</tspan><tspan dy="23.03">C</tspan></text>
<text class="s" font-size="56" fill="#000" transform="translate(1146.5 1240.5) scale(1 1.033)">215 <tspan font-size="32.48" dy="-30.24">o</tspan><tspan dy="30.24">C</tspan></text>
<text class="s" font-size="56" fill="#000" transform="translate(1146.5 1478.75) scale(1 1.033)">212 <tspan font-size="32.48" dy="-30.24">o</tspan><tspan dy="30.24">C</tspan></text>
<text class="s" font-size="53" fill="#000" transform="translate(1131.8 1303.75) scale(1 1)" style="font-family:'Liberation Serif', serif;font-weight:normal">&#916;</text>
<text class="s" font-size="56" fill="#000" transform="translate(1166 1303.75) scale(1 1.033)" word-spacing="0.5">T = 3 <tspan font-size="33.6" dy="-30.24">o</tspan><tspan dy="30.24">C</tspan></text>
<path class="ar" d="M886.9 567.3L865.56 597.85"/><path fill="#000" d="M843.8 629L857.36 592.12L873.76 603.57Z"/>
<path class="ar" d="M1461.75 491.25L1461.75 476.75"/><path fill="#000" d="M1461.75 438.75L1471.75 476.75L1451.75 476.75Z"/>
<path class="ar" d="M1927.5 577.5L1971.88 606.31"/><path fill="#000" d="M2003.75 627L1966.43 614.7L1977.32 597.92Z"/>
<path class="ar" d="M1438.75 790.5L1452.6 787.09"/><path fill="#000" d="M1489.5 778L1454.99 796.8L1450.21 777.38Z"/>
<path class="ar" d="M1353.75 888.75L1367.6 885.34"/><path fill="#000" d="M1404.5 876.25L1369.99 895.05L1365.21 875.63Z"/>
<path class="ar" d="M1305 966L1319.05 962.63"/><path fill="#000" d="M1356 953.75L1321.39 972.35L1316.72 952.9Z"/>
<path class="ar" d="M1202.5 1063L1216.71 1059.74"/><path fill="#000" d="M1253.75 1051.25L1218.95 1069.49L1214.48 1049.99Z"/>
<path class="ar" d="M1155 1132.5L1169.21 1129.24"/><path fill="#000" d="M1206.25 1120.75L1171.45 1138.99L1166.98 1119.49Z"/>
<path class="ar" d="M1130.8 1239.9L1085.87 1253.96"/><path fill="#000" d="M1049.6 1265.3L1082.88 1244.41L1088.85 1263.5Z"/>
<path class="ar" d="M1140.5 1463L1086.17 1472.62"/><path fill="#000" d="M1048.75 1479.25L1084.42 1462.78L1087.91 1482.47Z"/>
</svg></body></html>
